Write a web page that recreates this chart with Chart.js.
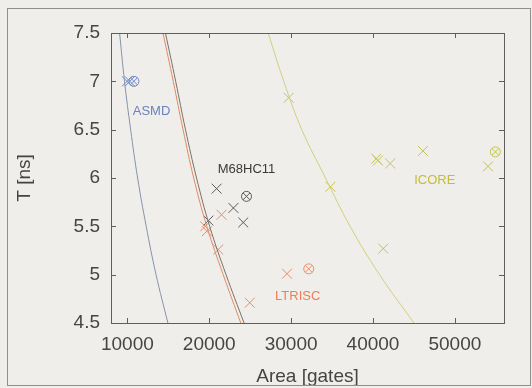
<!DOCTYPE html>
<html><head><meta charset="utf-8">
<script src="https://cdn.jsdelivr.net/npm/chart.js@4"></script>
<style>
html,body{margin:0;padding:0;background:#efeeeb;}
#wrap{position:relative;width:532px;height:388px;overflow:hidden;}
#frame{position:absolute;left:7px;top:8px;width:524px;height:378px;border:1px solid #8f8f8f;box-sizing:border-box;pointer-events:none;}
canvas{position:absolute;left:0;top:0;}
</style></head><body>
<div id="wrap"><canvas id="c" width="532" height="388"></canvas><div id="frame"></div></div>
<script>
// axis ticks
const xTicks = [10000, 20000, 30000, 40000, 50000];
const yTicks = [4.5, 5, 5.5, 6, 6.5, 7, 7.5];

// iso-curves (T -> area)
const curveT = [7.5, 7, 6.5, 6, 5.5, 5, 4.5];
const asmdCurveArea = [9050, 9650, 10400, 11250, 12300, 13500, 14950];
const ltriscCurveArea = [14350, 15600, 16800, 18100, 19700, 21700, 23850];
const m68CurveArea = [14650, 15900, 17100, 18450, 20050, 22050, 24250];
const icoreCurveArea = [27200, 29100, 31300, 34200, 37200, 40800, 45000];

// ASMD points
const asmdArea = [9950, 10300];
const asmdT = [7.0, 7.0];
const asmdBestArea = [10800];
const asmdBestT = [7.0];

// M68HC11 points
const m68Area = [20900, 22950, 24150, 19900];
const m68T = [5.89, 5.69, 5.54, 5.56];
const m68BestArea = [24550];
const m68BestT = [5.81];

// LTRISC points
const ltriscArea = [21500, 19500, 19700, 21100, 24950, 29500];
const ltriscT = [5.62, 5.50, 5.45, 5.26, 4.71, 5.01];
const ltriscBestArea = [32150];
const ltriscBestT = [5.06];

// ICORE points
const icoreArea = [29700, 34800, 40400, 40600, 42100, 46100, 54050, 41250];
const icoreT = [6.83, 5.91, 6.20, 6.18, 6.15, 6.28, 6.12, 5.27];
const icoreBestArea = [54950];
const icoreBestT = [6.27];

// group labels
const labelText = ['ASMD', 'M68HC11', 'LTRISC', 'ICORE'];
const labelArea = [12950, 24550, 30800, 47550];
const labelT = [6.69, 6.09, 4.78, 5.97];
const labelColor = ['#6b82bf', '#3a3a3a', '#ec7f55', '#c2bd3a'];

const C_ASMD = '#6f86c2', C_M68 = '#5a5a5a', C_LT = '#ef8a62', C_IC = '#c4c44c';

const pts = (xs, ys) => xs.map((x, i) => ({x: x, y: ys[i]}));
const curve = (xs) => xs.map((x, i) => ({x: x, y: curveT[i]}));

function lineDs(xs, color) {
  return {data: curve(xs), showLine: true, borderColor: color, borderWidth: 1,
          pointRadius: 0, tension: 0.4, fill: false};
}
function crossDs(xs, ys, color, r) {
  return {data: pts(xs, ys), showLine: false, pointStyle: 'crossRot', pointRadius: r || 7,
          pointBorderColor: color, pointBorderWidth: 1, pointBackgroundColor: color};
}
function circDs(xs, ys, color) {
  return {data: pts(xs, ys), showLine: false, pointStyle: 'circle', pointRadius: 5,
          pointBorderColor: color, pointBorderWidth: 1, pointBackgroundColor: 'rgba(0,0,0,0)'};
}

const framePlugin = {
  id: 'framePlugin',
  afterDatasetsDraw(chart) {
    const ctx = chart.ctx, a = chart.chartArea;
    const xs = chart.scales.x, ys = chart.scales.y;
    ctx.save();
    ctx.strokeStyle = '#5e5e5e';
    ctx.lineWidth = 1;
    ctx.strokeRect(Math.round(a.left) + 0.5, Math.round(a.top) + 0.5,
                   Math.round(a.right - a.left), Math.round(a.bottom - a.top));
    ctx.beginPath();
    const L = 5;
    xTicks.forEach(v => {
      const p = Math.round(xs.getPixelForValue(v)) + 0.5;
      ctx.moveTo(p, a.bottom); ctx.lineTo(p, a.bottom - L);
      ctx.moveTo(p, a.top); ctx.lineTo(p, a.top + L);
    });
    yTicks.forEach(v => {
      const p = Math.round(ys.getPixelForValue(v)) + 0.5;
      ctx.moveTo(a.left, p); ctx.lineTo(a.left + L, p);
      ctx.moveTo(a.right, p); ctx.lineTo(a.right - L, p);
    });
    ctx.stroke();
    // group labels
    ctx.font = '13px "Liberation Sans", Arial, sans-serif';
    ctx.textAlign = 'center';
    ctx.textBaseline = 'middle';
    labelText.forEach((t, i) => {
      ctx.fillStyle = labelColor[i];
      ctx.fillText(t, xs.getPixelForValue(labelArea[i]), ys.getPixelForValue(labelT[i]));
    });
    ctx.restore();
  }
};

const tickFont = {family: '"Liberation Sans", Arial, sans-serif', size: 19};

new Chart(document.getElementById('c'), {
  type: 'scatter',
  data: {
    datasets: [
      lineDs(asmdCurveArea, '#8592ab'),
      lineDs(ltriscCurveArea, '#e08a62'),
      lineDs(m68CurveArea, '#7d6f66'),
      lineDs(icoreCurveArea, '#cfd07a'),
      crossDs(asmdArea, asmdT, C_ASMD),
      circDs(asmdBestArea, asmdBestT, C_ASMD),
      crossDs(asmdBestArea, asmdBestT, C_ASMD, 5),
      crossDs(m68Area, m68T, C_M68),
      circDs(m68BestArea, m68BestT, C_M68),
      crossDs(m68BestArea, m68BestT, C_M68, 5),
      crossDs(ltriscArea, ltriscT, C_LT),
      circDs(ltriscBestArea, ltriscBestT, C_LT),
      crossDs(ltriscBestArea, ltriscBestT, C_LT, 5),
      crossDs(icoreArea, icoreT, C_IC),
      circDs(icoreBestArea, icoreBestT, C_IC),
      crossDs(icoreBestArea, icoreBestT, C_IC, 5)
    ]
  },
  options: {
    responsive: false,
    animation: false,
    devicePixelRatio: 1,
    layout: {padding: {top: 33, right: 28, left: 0, bottom: 0}},
    plugins: {legend: {display: false}, tooltip: {enabled: false}},
    scales: {
      x: {
        type: 'linear', min: 8000, max: 56000,
        afterBuildTicks: s => { s.ticks = xTicks.map(v => ({value: v})); },
        afterFit: s => { s.height = 65; },
        grid: {display: false, drawTicks: true, tickLength: 8},
        border: {display: false},
        ticks: {font: tickFont, color: '#454545', padding: 2, maxRotation: 0,
                callback: v => String(v)},
        title: {display: true, text: 'Area [gates]', font: tickFont, color: '#454545',
                padding: {top: 0, bottom: 0}}
      },
      y: {
        type: 'linear', min: 4.5, max: 7.5,
        afterBuildTicks: s => { s.ticks = yTicks.map(v => ({value: v})); },
        afterFit: s => { s.width = 111; },
        grid: {display: false, drawTicks: true, tickLength: 8},
        border: {display: false},
        ticks: {font: tickFont, color: '#454545', padding: 3,
                callback: v => String(v)},
        title: {display: true, text: 'T [ns]', font: tickFont, color: '#454545',
                padding: {top: 13, bottom: 0}}
      }
    }
  },
  plugins: [framePlugin]
});
</script>
</body></html>
